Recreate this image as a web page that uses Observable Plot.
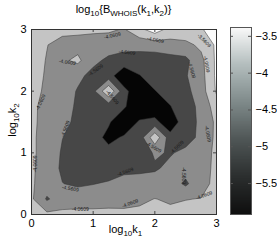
<!DOCTYPE html>
<html><head><meta charset="utf-8">
<script src="https://cdn.jsdelivr.net/npm/d3@7"></script>
<script src="https://cdn.jsdelivr.net/npm/@observablehq/plot@0.6"></script>
<style>
html,body{margin:0;padding:0;background:#fff;}
#wrap{position:relative;width:277px;height:244px;overflow:hidden;font-family:"Liberation Sans",Arial,sans-serif;color:#000;}
#wrap svg{position:absolute;overflow:visible;}
.lbl{position:absolute;font-size:11px;line-height:12px;white-space:nowrap;}
.lbl sub{font-size:8px;vertical-align:-3px;line-height:0;}
</style></head>
<body><div id="wrap"></div>
<script>
// grid positions (log10 k1 columns, log10 k2 rows from top to bottom)
const k1 = [0, 0.25, 0.5, 0.75, 1, 1.25, 1.5, 1.75, 2, 2.25, 2.5, 2.75, 3];
const k2 = [3, 2.75, 2.5, 2.25, 2, 1.75, 1.5, 1.25, 1, 0.75, 0.5, 0.25, 0];
// estimated log10 B values, one row per k2 value
const z300 = [-3.85, -3.85, -3.95, -3.95, -3.97, -3.98, -4.10, -3.70, -3.30, -3.75, -3.70, -3.60, -3.35];
const z275 = [-3.85, -4.05, -4.20, -4.25, -4.30, -4.35, -4.40, -4.38, -4.35, -4.25, -4.20, -3.95, -3.48];
const z250 = [-3.90, -4.08, -4.15, -3.95, -4.45, -4.65, -4.75, -4.80, -4.80, -4.75, -4.68, -4.20, -3.46];
const z225 = [-3.92, -4.10, -4.25, -4.45, -4.70, -4.85, -5.45, -5.08, -4.85, -4.75, -4.60, -4.25, -3.46];
const z200 = [-3.90, -4.15, -4.30, -4.60, -4.70, -3.60, -4.90, -5.45, -5.08, -4.85, -4.70, -4.30, -3.50];
const z175 = [-3.97, -4.20, -4.40, -4.62, -4.80, -4.85, -5.00, -5.45, -5.45, -5.08, -4.75, -4.45, -3.80];
const z150 = [-3.98, -4.20, -4.45, -4.65, -4.80, -5.00, -5.45, -5.00, -4.90, -5.45, -4.70, -4.50, -3.95];
const z125 = [-4.00, -4.20, -4.55, -4.75, -4.85, -5.20, -5.00, -4.85, -3.70, -4.85, -4.75, -4.45, -3.95];
const z100 = [-4.00, -4.20, -4.62, -4.75, -4.85, -4.90, -4.90, -4.85, -4.50, -4.60, -4.45, -4.30, -3.95];
const z075 = [-4.00, -4.25, -4.65, -4.80, -4.85, -4.85, -4.68, -4.65, -4.62, -4.45, -4.35, -4.25, -3.95];
const z050 = [-4.00, -4.30, -4.55, -4.65, -4.58, -4.50, -4.40, -4.40, -4.35, -4.30, -4.65, -4.20, -3.95];
const z025 = [-3.98, -4.62, -4.30, -4.25, -4.25, -4.22, -4.20, -4.15, -4.05, -4.12, -4.07, -4.05, -3.95];
const z000 = [-3.95, -3.95, -3.95, -3.95, -3.95, -3.95, -3.97, -3.95, -3.92, -3.95, -3.95, -3.95, -3.90];
const zRows = [z300, z275, z250, z225, z200, z175, z150, z125, z100, z075, z050, z025, z000];

const levels = [-5.0609, -4.5609, -4.0609, -3.5609];
const bandColors = ["#474747", "#8c8c8c", "#c4c4c4", "#fbfbfb"];
const baseColor = "#050505";

const xTicks = [0, 1, 2, 3];
const yTicks = [0, 1, 2, 3];

// contour labels
const labK1 = [1.31, 2.01, 2.80, 2.84, 0.58, 1.04, 1.55, 2.60, 0.15, 1.31, 1.98, 0.55, 0.06, 0.63, 1.52, 2.36, 2.86, 2.47, 0.79, 1.60, 2.80];
const labK2 = [2.90, 2.83, 2.82, 2.44, 2.47, 2.34, 2.63, 2.34, 1.82, 1.90, 1.09, 1.39, 0.82, 0.42, 0.69, 1.09, 1.31, 0.63, 0.09, 0.18, 0.31];
const labAngle = [-12, 12, 45, 80, 8, -35, 5, 75, -65, 50, 30, -70, -90, 10, -20, -45, 80, 90, 0, -20, -20];
const labText = ["-4.0609","-4.0609","-3.5609","-4.0609","-4.0609","-4.5609","-4.5609","-4.5609","-4.0609","-4.5609","-4.5609","-4.5609","-4.0609","-4.5609","-4.5609","-4.5609","-4.0609","-4.5609","-4.0609","-4.0609","-4.0609"];

// colorbar
const cbarDomain = [-5.92, -3.38];
const cbarTicks = [-5.5, -5, -4.5, -4, -3.5];
const cbarStops = ["#0e0e0e", "#2b2e2e", "#4f5656", "#7f8a8a", "#b3bdbd", "#fafafa"];

const grid = zRows.flat();
const step = k1[1] - k1[0];
const labels = labK1.map((x, i) => ({x, y: labK2[i], a: labAngle[i], t: labText[i]}));
const fmt = d => (d < 0 ? "\u2212" : "") + Math.abs(d);

const W = 277, H = 244;
const mL = 31, mR = 61, mT = 29, mB = 30;
const innerH = H - mT - mB;
const innerW = W - mL - mR;

const main = Plot.plot({
  width: W, height: H,
  marginLeft: mL, marginRight: mR, marginTop: mT, marginBottom: mB,
  style: {fontFamily: "'Liberation Sans', Arial, sans-serif", fontSize: "11px", background: "transparent", color: "#000"},
  x: {domain: [xTicks[0], xTicks[xTicks.length - 1]], axis: null},
  y: {domain: [yTicks[0], yTicks[yTicks.length - 1]], axis: null},
  color: {type: "ordinal", domain: levels, range: bandColors},
  marks: [
    Plot.frame({fill: baseColor}),
    Plot.contour(grid, {
      width: k1.length, height: k2.length,
      x1: k1[0] - step / 2, x2: k1[k1.length - 1] + step / 2,
      y1: k2[0] + step / 2, y2: k2[k2.length - 1] - step / 2,
      fill: Plot.identity, thresholds: levels,
      stroke: "#333", strokeWidth: 0.5, clip: true
    }),
    Plot.text(labels, {x: "x", y: "y", rotate: "a", text: "t", fontSize: 5, fill: "#1a1a1a", clip: true}),
    Plot.tickX(xTicks, {x: d => d, insetTop: innerH - 3, stroke: "#444"}),
    Plot.tickX(xTicks, {x: d => d, insetBottom: innerH - 3, stroke: "#444"}),
    Plot.tickY(yTicks, {y: d => d, insetRight: innerW - 3, stroke: "#444"}),
    Plot.tickY(yTicks, {y: d => d, insetLeft: innerW - 3, stroke: "#444"}),
    Plot.frame({stroke: "#333"}),
    Plot.axisX({ticks: xTicks, anchor: "bottom", tickSize: 0, tickPadding: 5, tickFormat: d => String(d), label: null}),
    Plot.axisY({ticks: yTicks, anchor: "left", tickSize: 0, tickPadding: 5, tickFormat: d => String(d), label: null})
  ]
});
main.style.left = "0px"; main.style.top = "0px";

const cb = Plot.plot({
  width: 57, height: H,
  marginLeft: 10, marginRight: 26, marginTop: 27, marginBottom: 30,
  style: {fontFamily: "'Liberation Sans', Arial, sans-serif", fontSize: "11px", background: "transparent", color: "#000"},
  x: {domain: [0, 1], axis: null},
  y: {domain: cbarDomain, axis: null},
  color: {type: "linear", domain: cbarDomain, interpolate: d3.piecewise(d3.interpolateRgb, cbarStops)},
  marks: [
    Plot.raster({fill: (x, y) => y, x1: 0, x2: 1, y1: cbarDomain[0], y2: cbarDomain[1], width: 1, height: 256}),
    Plot.tickY(cbarTicks, {y: d => d, insetRight: 18, stroke: "#555"}),
    Plot.tickY(cbarTicks, {y: d => d, insetLeft: 18, stroke: "#555"}),
    Plot.frame({stroke: "#555"}),
    Plot.axisY({ticks: cbarTicks, anchor: "right", tickSize: 0, tickPadding: 4, tickFormat: fmt, label: null})
  ]
});
cb.style.left = "220px"; cb.style.top = "0px";

const wrap = document.getElementById("wrap");
wrap.appendChild(main);
wrap.appendChild(cb);

const title = document.createElement("div");
title.className = "lbl";
title.style.cssText = "left:0;top:3px;width:247px;text-align:center;";
title.innerHTML = "log<sub>10</sub>{B<sub>WHOIS</sub>(k<sub>1</sub>,k<sub>2</sub>)}";
wrap.appendChild(title);

const xl = document.createElement("div");
xl.className = "lbl";
xl.style.cssText = "left:33px;top:223px;width:185px;text-align:center;";
xl.innerHTML = "log<sub>10</sub>k<sub>1</sub>";
wrap.appendChild(xl);

const yl = document.createElement("div");
yl.className = "lbl";
yl.style.cssText = "left:-28px;top:114px;width:80px;text-align:center;transform:rotate(-90deg);";
yl.innerHTML = "log<sub>10</sub>k<sub>2</sub>";
wrap.appendChild(yl);
</script>
</body></html>
